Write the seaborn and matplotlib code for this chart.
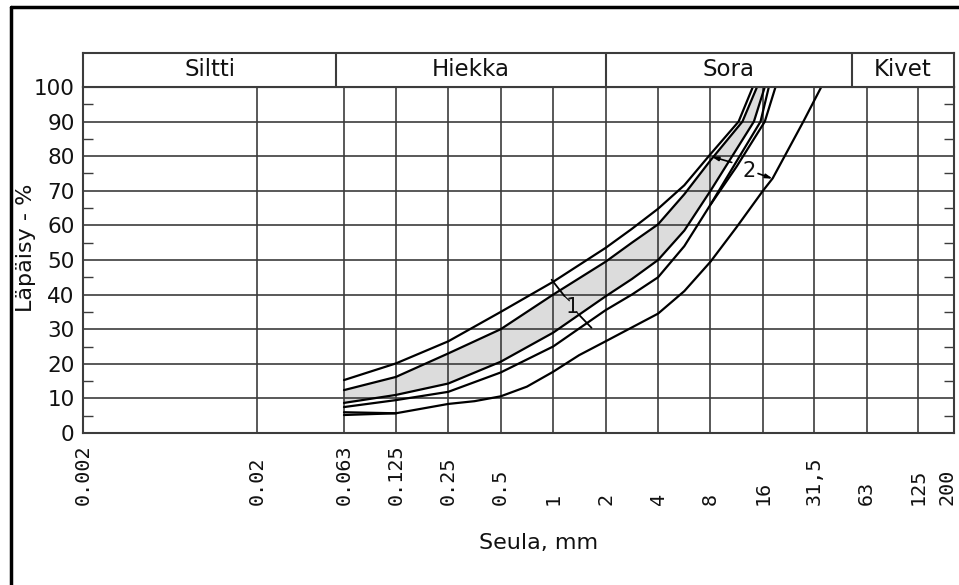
import matplotlib
matplotlib.use("Agg")
import matplotlib.pyplot as plt
import matplotlib.transforms as mtrans
import seaborn as sns
import pandas as pd
from matplotlib.lines import Line2D

sns.set_style("white")
plt.rcParams["font.family"] = ["DejaVu Sans"]
plt.rcParams["text.color"] = "#111111"
plt.rcParams["xtick.color"] = "#111111"
plt.rcParams["ytick.color"] = "#111111"

# ---- data ----
sieve_ticks = [0.002, 0.02, 0.063, 0.125, 0.25, 0.5, 1, 2, 4, 8, 16, 31.5, 63, 125, 200]
sieve_labels = ["0.002", "0.02", "0.063", "0.125", "0.25", "0.5", "1", "2", "4", "8",
                "16", "31,5", "63", "125", "200"]
pct_ticks = list(range(0, 101, 10))
zones = ["Siltti", "Hiekka", "Sora", "Kivet"]
zone_edges = [0.002, 0.057, 2, 52, 200]

A_x = [0.063, 0.125, 0.25, 0.5, 1, 2, 2.83, 4, 5.66, 8, 11.6, 14.0]
A_y = [15.3, 20.1, 26.5, 35.0, 43.7, 53.5, 59.0, 64.8, 71.6, 80.6, 90, 100]
B_x = [0.063, 0.125, 0.25, 0.5, 1, 2, 2.83, 4, 5.66, 8, 12.2, 14.8]
B_y = [12.4, 16.2, 23.0, 30.0, 40.0, 49.5, 55.0, 60.3, 69.0, 78.8, 90, 100]
C_x = [0.063, 0.125, 0.25, 0.5, 1, 2, 2.83, 4, 5.66, 8, 14.2, 16.4]
C_y = [8.7, 11.0, 14.3, 20.6, 29.0, 39.5, 44.5, 50.0, 58.5, 70.0, 90, 100]
D_x = [0.063, 0.125, 0.25, 0.5, 1, 2, 2.83, 4, 5.66, 8, 15.5, 17.3]
D_y = [7.5, 9.5, 11.9, 17.5, 25.0, 35.5, 40.0, 45.0, 54.0, 66.0, 90, 100]
F_x = [8, 11.3, 16.4, 18.9]
F_y = [66.0, 77.0, 90, 100]
E_x = [0.063, 0.125, 0.25, 0.354, 0.5, 0.707, 1, 1.41, 2, 4, 5.66, 8, 11.3, 16, 18.2, 27.3, 34.6]
E_y = [5.2, 5.7, 8.4, 9.2, 10.6, 13.4, 17.7, 22.5, 26.5, 34.5, 41.0, 49.5, 59.5, 70, 73.6, 90, 100]
G_x = [0.063, 0.125]
G_y = [6.0, 5.7]

curves = {"A": (A_x, A_y), "B": (B_x, B_y), "C": (C_x, C_y), "D": (D_x, D_y),
          "E": (E_x, E_y), "F": (F_x, F_y), "G": (G_x, G_y)}
rows = []
for name, (xs, ys) in curves.items():
    for i, (xv, yv) in enumerate(zip(xs, ys)):
        rows.append({"curve": name, "order": i, "x": xv, "y": yv})
df = pd.DataFrame(rows)

# ---- figure ----
W, H = 959, 585
fig = plt.figure(figsize=(W / 100, H / 100), dpi=100)
L, R, T, Bt, HT = 83, 954, 87, 433, 53
ax = fig.add_axes([L / W, (H - Bt) / H, (R - L) / W, (Bt - T) / H])
hx = fig.add_axes([L / W, (H - T) / H, (R - L) / W, (T - HT) / H])

gc = "#3c3c3c"
ax.set_xscale("log")
ax.set_xlim(0.002, 200)
ax.set_ylim(0, 100)

# shaded zone between B and C
ax.fill(B_x + C_x[::-1], B_y + C_y[::-1], color="#dcdcdc", lw=0, zorder=0.5)

sns.lineplot(data=df, x="x", y="y", units="curve", estimator=None, sort=False,
             color="black", lw=1.6, ax=ax, zorder=3, legend=False)

# grid
for xv in sieve_ticks[1:-1]:
    ax.axvline(xv, color=gc, lw=1.2, zorder=1)
for yv in pct_ticks[1:-1]:
    ax.axhline(yv, color=gc, lw=1.2, zorder=1)

ax.set_xticks(sieve_ticks)
ax.set_xticks([], minor=True)
ax.set_xticklabels(sieve_labels, rotation=90, rotation_mode="anchor", ha="left", va="center",
                   family="DejaVu Sans Mono", fontsize=14.5)
ax.tick_params(axis="x", which="major", length=0, pad=52)
# last label sits slightly inside the frame
lab = ax.get_xticklabels()[-1]
lab.set_transform(lab.get_transform() + mtrans.ScaledTranslation(-7 / 100, 0, fig.dpi_scale_trans))

ax.set_yticks(pct_ticks)
ax.set_yticklabels([str(v) for v in pct_ticks], fontsize=15.5)
ax.set_yticks(list(range(5, 100, 10)), minor=True)
ax.tick_params(axis="y", which="major", length=0, pad=6)
ax.tick_params(axis="y", which="minor", direction="in", length=7, width=1.0,
               left=True, right=True, color=gc)
ax.set_xlabel("")
ax.set_ylabel("")
for s in ax.spines.values():
    s.set_color(gc)
    s.set_linewidth(1.5)

# annotations
ax.plot([0.98, 1.16], [44.3, 39.6], color="black", lw=1.3, zorder=4)
ax.plot([1.16, 1.24], [39.6, 38.2], color="black", lw=0.8, zorder=4)
ax.plot([1.43, 1.66], [33.8, 30.4], color="black", lw=1.3, zorder=4)
ax.plot([1.36, 1.43], [35.0, 33.8], color="black", lw=0.8, zorder=4)
ax.text(1.29, 36.4, "1", fontsize=15, ha="center", va="center", zorder=5)
ax.annotate("", xy=(8.1, 79.9), xytext=(10.6, 78.2),
            arrowprops=dict(arrowstyle="-|>,head_length=0.4,head_width=0.12", color="black",
                            lw=1.2, shrinkA=0, shrinkB=0), zorder=4)
ax.annotate("", xy=(18.2, 73.5), xytext=(15.0, 75.0),
            arrowprops=dict(arrowstyle="-|>,head_length=0.4,head_width=0.12", color="black",
                            lw=1.2, shrinkA=0, shrinkB=0), zorder=4)
ax.text(13.4, 75.6, "2", fontsize=15, ha="center", va="center", zorder=5)

# header band
hx.set_xscale("log")
hx.set_xlim(0.002, 200)
hx.set_ylim(0, 1)
hx.set_xticks([])
hx.set_yticks([])
hx.set_xticks([], minor=True)
for s in hx.spines.values():
    s.set_color(gc)
    s.set_linewidth(1.5)
for e in zone_edges[1:-1]:
    hx.axvline(e, color=gc, lw=1.5)
for i, z in enumerate(zones):
    lo, hi = zone_edges[i], zone_edges[i + 1]
    hx.text((lo * hi) ** 0.5, 0.5, z, ha="center", va="center", fontsize=16.5)

# axis titles
fig.text(539 / W, 1 - 543 / H, "Seula, mm", ha="center", va="center", fontsize=16)
fig.text(26 / W, 1 - 248 / H, "Läpäisy - %", ha="center", va="center", rotation=90, fontsize=16)

# outer frame
fig.add_artist(Line2D([11 / W, 11 / W], [1 - 7 / H, -0.01], transform=fig.transFigure,
                      color="black", lw=2.5))
fig.add_artist(Line2D([11 / W, 1.01], [1 - 7 / H, 1 - 7 / H], transform=fig.transFigure,
                      color="black", lw=2.5))

fig.savefig("out.png", dpi=100)
